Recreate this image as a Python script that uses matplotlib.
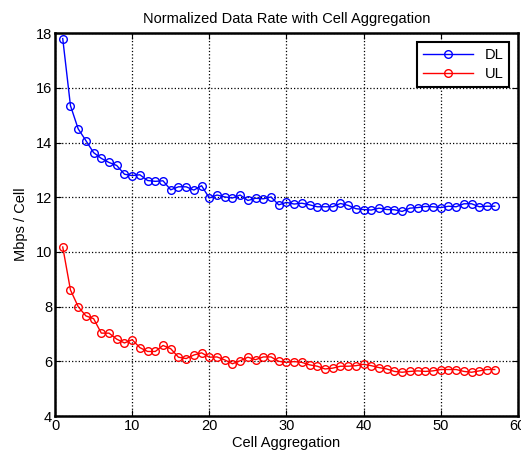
import numpy as np
import matplotlib
matplotlib.use('Agg')
import matplotlib.pyplot as plt

plt.rcParams['font.family'] = ['Liberation Sans', 'DejaVu Sans']

# cell aggregation 1..57
cells = np.arange(1, 58)

dl = [17.80, 15.35, 14.50, 14.07, 13.63, 13.42, 13.27, 13.16, 12.84, 12.79,
      12.82, 12.61, 12.58, 12.60, 12.27, 12.38, 12.38, 12.26, 12.42, 11.97,
      12.08, 12.01, 11.97, 12.08, 11.88, 11.96, 11.94, 12.01, 11.72, 11.81,
      11.75, 11.78, 11.72, 11.65, 11.65, 11.65, 11.77, 11.70, 11.58, 11.55,
      11.53, 11.60, 11.55, 11.54, 11.48, 11.60, 11.62, 11.66, 11.65, 11.62,
      11.67, 11.65, 11.76, 11.76, 11.65, 11.67, 11.67]

ul = [10.18, 8.61, 8.00, 7.66, 7.56, 7.03, 7.03, 6.81, 6.67, 6.79,
      6.50, 6.36, 6.36, 6.58, 6.46, 6.15, 6.10, 6.23, 6.31, 6.15,
      6.16, 6.05, 5.91, 6.02, 6.15, 6.06, 6.16, 6.16, 6.00, 5.96,
      5.99, 5.96, 5.87, 5.82, 5.72, 5.75, 5.82, 5.82, 5.84, 5.89,
      5.84, 5.77, 5.72, 5.63, 5.60, 5.63, 5.65, 5.63, 5.65, 5.70,
      5.70, 5.70, 5.63, 5.60, 5.65, 5.70, 5.70]

fig = plt.figure(figsize=(5.21, 4.61), dpi=100)
ax = fig.add_axes([0.1056, 0.0976, 0.8884, 0.8306])

ax.plot(cells, dl, '-o', color='blue', lw=1, ms=5.5, mfc='none', mew=1, label='DL')
ax.plot(cells, ul, '-o', color='red', lw=1, ms=5.5, mfc='none', mew=1, label='UL')

ax.set_xlim(0, 60)
ax.set_ylim(4, 18)
ax.set_xticks(range(0, 61, 10))
ax.set_yticks(range(4, 19, 2))
ax.grid(True, color='black', linestyle=':', linewidth=0.9)
ax.tick_params(direction='in', top=True, right=True, labelsize=10.5, length=4, pad=2)
for s in ax.spines.values():
    s.set_linewidth(1.8)

ax.set_title('Normalized Data Rate with Cell Aggregation', fontsize=10.5, pad=7)
ax.set_xlabel('Cell Aggregation', fontsize=10.5, labelpad=2)
ax.set_ylabel('Mbps / Cell', fontsize=10.5, labelpad=6)

leg = ax.legend(loc='upper right', fontsize=10.5, fancybox=False, framealpha=1,
                edgecolor='black', borderaxespad=0.6, handlelength=3.4,
                borderpad=0.4, labelspacing=0.35)
leg.get_frame().set_linewidth(1.5)

fig.savefig('out.png', dpi=100)
